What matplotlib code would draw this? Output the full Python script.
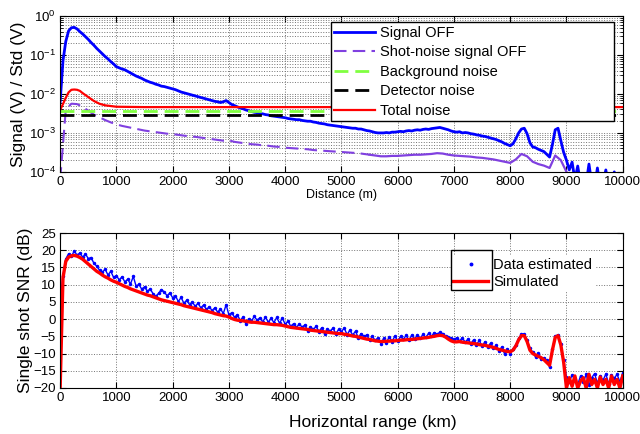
import numpy as np
import matplotlib
matplotlib.use("Agg")
import matplotlib.pyplot as plt
from matplotlib.patches import Rectangle

plt.rcParams['font.family'] = ['Liberation Sans', 'DejaVu Sans']

# ---- top panel: signal / noise levels (log10 of V), 50 m steps ----
dist = np.arange(0, 10001, 50)
sig_off_log = [
    -2.2, -1.15, -0.65, -0.38, -0.3, -0.29, -0.33, -0.4, -0.46, -0.53,
    -0.6, -0.68, -0.75, -0.83, -0.9, -0.97, -1.04, -1.1, -1.17, -1.23,
    -1.3, -1.33, -1.36, -1.38, -1.42, -1.46, -1.5, -1.54, -1.57, -1.6,
    -1.64, -1.67, -1.7, -1.72, -1.75, -1.77, -1.8, -1.81, -1.83, -1.85,
    -1.87, -1.89, -1.92, -1.95, -1.97, -1.99, -2.01, -2.03, -2.05, -2.07,
    -2.09, -2.11, -2.13, -2.15, -2.17, -2.19, -2.2, -2.22, -2.2, -2.17,
    -2.22, -2.27, -2.3, -2.33, -2.36, -2.38, -2.41, -2.43, -2.45, -2.47,
    -2.48, -2.5, -2.51, -2.53, -2.54, -2.56, -2.57, -2.58, -2.59, -2.6,
    -2.61, -2.63, -2.64, -2.65, -2.66, -2.66, -2.68, -2.69, -2.7, -2.7,
    -2.72, -2.73, -2.75, -2.76, -2.77, -2.79, -2.8, -2.81, -2.82, -2.83,
    -2.84, -2.85, -2.86, -2.87, -2.88, -2.88, -2.9, -2.9, -2.92, -2.94,
    -2.95, -2.97, -2.99, -3.0, -3.0, -3.0, -2.99, -3.0, -2.98, -2.98,
    -2.97, -2.96, -2.97, -2.95, -2.94, -2.95, -2.93, -2.92, -2.93, -2.91,
    -2.9, -2.91, -2.89, -2.88, -2.87, -2.86, -2.88, -2.9, -2.92, -2.95,
    -2.97, -2.98, -2.97, -3.0, -2.99, -3.0, -3.02, -3.03, -3.05, -3.06,
    -3.08, -3.09, -3.11, -3.13, -3.15, -3.17, -3.2, -3.23, -3.27, -3.3,
    -3.33, -3.28, -3.15, -3.0, -2.9, -2.88, -3.02, -3.25, -3.36, -3.38,
    -3.42, -3.45, -3.48, -3.55, -3.62, -3.3, -2.92, -2.88, -3.2, -3.5,
    -3.7, -3.95, -3.75, -4.2, -3.85, -4.3, -4.2, -4.3, -3.8, -4.3,
    -4.4, -3.9, -4.4, -4.3, -3.95, -4.4, -4.5, -4.0, -4.4, -4.5,
    -4.5,
]

# shot noise, 100 m steps
dist_shot = np.arange(0, 10001, 100)
shot_log = [
    -4.2, -2.4, -2.25, -2.26, -2.33, -2.43, -2.53, -2.6, -2.67, -2.73,
    -2.78, -2.82, -2.85, -2.88, -2.91, -2.94, -2.96, -2.98, -3.0, -3.02,
    -3.03, -3.05, -3.07, -3.09, -3.1, -3.12, -3.14, -3.16, -3.18, -3.2,
    -3.19, -3.23, -3.25, -3.27, -3.29, -3.3, -3.32, -3.33, -3.35, -3.36,
    -3.38, -3.39, -3.4, -3.41, -3.42, -3.44, -3.45, -3.46, -3.47, -3.48,
    -3.49, -3.5, -3.51, -3.52, -3.54, -3.56, -3.58, -3.6, -3.6, -3.59,
    -3.59, -3.58, -3.57, -3.56, -3.56, -3.55, -3.54, -3.52, -3.53, -3.56,
    -3.58, -3.59, -3.6, -3.61, -3.63, -3.64, -3.66, -3.68, -3.71, -3.74,
    -3.77, -3.68, -3.54, -3.6, -3.74, -3.8, -3.84, -3.9, -3.58, -3.7,
    -4.0, -4.3, -4.4, -4.5, -4.5, -4.5, -4.5, -4.5, -4.5, -4.5,
    -4.5,
]

tot_x = [0, 50, 100, 150, 200, 250, 300, 350, 400, 500, 600, 700, 800, 1000, 1500, 10000]
tot_noise = [0.0039, 0.0055, 0.008, 0.011, 0.0128, 0.013, 0.0128, 0.012, 0.0105,
             0.0083, 0.0066, 0.0056, 0.0051, 0.0047, 0.0046, 0.0046]
bg_noise = 0.0037
det_noise = 0.0028

# ---- bottom panel: single shot SNR (dB), 50 m steps ----
snr_sim = [
    -20, 12.0, 16.8, 18.0, 18.4, 18.5, 18.3, 17.9, 17.4, 16.7,
    16.0, 15.3, 14.6, 13.9, 13.4, 12.8, 12.3, 11.9, 11.4, 11.0,
    10.7, 10.3, 9.9, 9.5, 9.2, 8.8, 8.5, 8.2, 7.9, 7.6,
    7.3, 7.0, 6.8, 6.5, 6.2, 5.9, 5.6, 5.4, 5.2, 5.0,
    4.8, 4.6, 4.4, 4.2, 3.9, 3.7, 3.5, 3.3, 3.1, 2.9,
    2.7, 2.5, 2.3, 2.1, 1.9, 1.6, 1.4, 1.2, 1.0, 0.9,
    0.6, 0.2, -0.1, -0.3, -0.4, -0.5, -0.6, -0.8, -0.9, -0.9,
    -1.0, -1.1, -1.2, -1.3, -1.4, -1.5, -1.6, -1.6, -1.7, -1.8,
    -2.0, -2.2, -2.4, -2.5, -2.6, -2.7, -2.8, -2.9, -3.0, -3.2,
    -3.3, -3.4, -3.5, -3.6, -3.7, -3.8, -3.9, -4.0, -4.1, -4.2,
    -4.2, -4.4, -4.5, -4.7, -4.9, -5.0, -5.2, -5.4, -5.6, -5.8,
    -5.9, -6.1, -6.3, -6.4, -6.5, -6.5, -6.4, -6.4, -6.3, -6.3,
    -6.2, -6.1, -6.1, -6.0, -5.9, -5.9, -5.8, -5.7, -5.6, -5.5,
    -5.4, -5.3, -5.1, -5.0, -4.8, -4.7, -4.8, -5.2, -5.8, -6.3,
    -6.6, -6.6, -6.5, -6.7, -6.8, -6.9, -7.0, -7.1, -7.2, -7.4,
    -7.5, -7.6, -7.8, -8.0, -8.2, -8.5, -8.8, -9.0, -9.2, -9.4,
    -9.5, -9.0, -7.8, -6.0, -4.8, -4.8, -6.5, -9.0, -10.0, -10.4,
    -10.8, -11.2, -11.8, -12.6, -13.4, -9.0, -5.3, -4.8, -7.5, -12.5,
    -20, -17, -19.5, -16.5, -20, -18, -17, -20, -16, -19,
    -17.5, -20, -16.8, -19, -17.5, -20, -16.5, -19, -17.5, -20,
    -16.5,
]
snr_est = [
    5.5, 12.5, 17.5, 19.0, 18.2, 19.8, 18.6, 19.2, 18.0, 18.9,
    17.6, 17.9, 16.2, 15.4, 14.2, 13.6, 14.5, 12.8, 13.9, 12.1,
    12.6, 11.4, 12.3, 10.8, 11.6, 10.2, 12.4, 9.6, 10.1, 8.7,
    9.4, 8.1, 8.8, 7.4, 6.6, 7.5, 8.6, 7.9, 6.8, 7.6,
    6.2, 6.8, 5.1, 6.3, 4.6, 5.5, 4.2, 5.0, 3.7, 4.6,
    3.3, 4.1, 2.8, 3.6, 2.5, 3.3, 2.0, 3.0, 1.6, 4.2,
    1.2, 1.9, 0.5, 1.3, -0.4, 0.6, -1.4, 0.1, -0.6, 0.8,
    -0.3, 0.4, -0.8, 0.6, -0.9, 0.2, -1.0, 0.5, -1.2, 0.3,
    -1.5, -0.6, -2.1, -1.3, -2.4, -1.4, -2.3, -1.7, -3.4, -2.2,
    -3.0, -2.1, -3.6, -2.5, -4.3, -2.8, -3.5, -2.6, -4.2, -3.0,
    -3.6, -2.6, -4.5, -3.2, -4.6, -3.5, -5.4, -4.2, -5.0, -4.6,
    -6.1, -5.0, -6.2, -5.4, -7.1, -5.6, -6.8, -5.1, -6.5, -4.9,
    -6.4, -5.0, -5.9, -4.7, -6.2, -4.6, -5.8, -4.5, -5.6, -4.4,
    -5.3, -4.1, -5.0, -3.9, -4.4, -3.8, -4.2, -4.9, -5.2, -5.6,
    -5.9, -5.4, -6.3, -5.5, -6.7, -5.8, -7.1, -6.0, -7.4, -6.2,
    -7.9, -6.6, -8.1, -7.0, -8.4, -7.6, -9.3, -8.1, -10.1, -8.6,
    -10.0, -8.6, -7.4, -5.6, -4.4, -4.3, -6.1, -8.5, -9.6, -11.0,
    -9.8, -11.7, -11.3, -12.0, -14.0, -8.6, -4.9, -4.6, -7.2, -11.9,
    -16.8, -18.2, -16.2, -17.6, -19.0, -16.5, -18.4, -16.0, -19.2, -17.0,
    -15.8, -18.6, -16.4, -17.8, -15.9, -18.8, -16.3, -17.2, -16.0, -18.3,
    -15.6,
]

sig_off = 10 ** np.array(sig_off_log)
shot = 10 ** np.array(shot_log)

blue = '#0000ff'
purple = '#8040e0'
green = '#80ff40'
red = '#ff0000'

fig = plt.figure(figsize=(6.4, 4.34), dpi=100)
ax1 = fig.add_axes([0.094, 0.604, 0.879, 0.359])
ax2 = fig.add_axes([0.094, 0.106, 0.879, 0.357])

# top
ax1.plot(dist, sig_off, color=blue, lw=2.0, label='Signal OFF')
cut = dist_shot <= 5500
ax1.plot(dist_shot[cut], shot[cut], color=purple, lw=1.5, dashes=(6, 3),
         label='Shot-noise signal OFF')
tail = dist_shot >= 5500
ax1.plot(dist_shot[tail], shot[tail], color=purple, lw=1.6)
ax1.plot([0, 10000], [bg_noise, bg_noise], color=green, lw=2.0, dashes=(5, 2.5),
         label='Background noise')
ax1.plot([0, 10000], [det_noise, det_noise], color='black', lw=2.0, dashes=(5, 2.5),
         label='Detector noise')
ax1.plot(tot_x, tot_noise, color=red, lw=1.6, label='Total noise')
ax1.set_yscale('log')
ax1.set_ylim(1e-4, 1)
ax1.set_xlim(0, 10000)
ax1.set_xticks(range(0, 10001, 1000))
ax1.grid(True, which='major', ls=':', color='0.45', lw=0.7)
ax1.grid(True, which='minor', axis='y', ls=':', color='0.45', lw=0.7)
ax1.set_xlabel('Distance (m)', fontsize=9, labelpad=1)
ax1.set_ylabel('Signal (V) / Std (V)', fontsize=12.5, labelpad=2)
leg1 = ax1.legend(loc='upper left', bbox_to_anchor=(0.481, 0.962, 0.503, 0.0),
                  mode='expand', borderaxespad=0, fontsize=10.5, frameon=True,
                  fancybox=False, edgecolor='black', framealpha=1,
                  handlelength=2.8, handletextpad=0.35, labelspacing=0.38,
                  borderpad=0.25)
leg1.get_frame().set_linewidth(1.0)

# bottom
ax2.plot(dist, snr_est, color=blue, lw=1.0)
ax2.plot(dist, snr_est, '.', color=blue, ms=3, label='Data estimated')
ax2.plot(dist, snr_sim, color=red, lw=2.4, label='Simulated')
ax2.set_xlim(0, 10000)
ax2.set_ylim(-20, 25)
ax2.set_xticks(range(0, 10001, 1000))
ax2.set_yticks(range(-20, 26, 5))
ax2.grid(True, ls=':', color='0.45', lw=0.7)
ax2.set_xlabel('Horizontal range (km)', fontsize=12.5)
ax2.xaxis.set_label_coords(0.556, -0.175)
ax2.set_ylabel('Single shot SNR (dB)', fontsize=12.5, labelpad=0)
leg2 = ax2.legend(loc='upper left', bbox_to_anchor=(0.694, 0.86), borderaxespad=0,
                  fontsize=10.5, frameon=True, fancybox=False, edgecolor='none',
                  framealpha=1, handlelength=2.4, handletextpad=0.3,
                  labelspacing=0.25, borderpad=0.2, markerscale=1.2)
ax2.add_patch(Rectangle((0.694, 0.632), 0.073, 0.258, transform=ax2.transAxes,
                        fill=False, edgecolor='black', lw=1.0, zorder=10))

for ax in (ax1, ax2):
    ax.tick_params(direction='in', which='both', top=True, right=True,
                   labelsize=9.5, pad=3)
    ax.tick_params(which='major', length=4)
    ax.tick_params(which='minor', length=2)
    for s in ax.spines.values():
        s.set_linewidth(0.8)
ax1.tick_params(axis='x', which='minor', bottom=False, top=False)

fig.savefig('out.png', dpi=100)
